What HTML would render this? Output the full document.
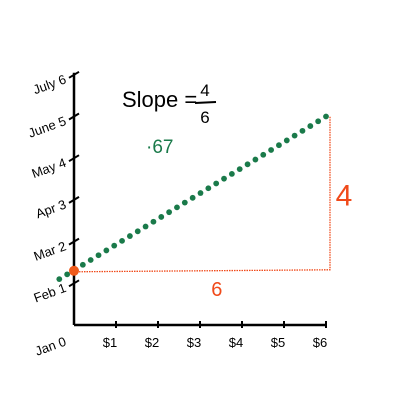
<!DOCTYPE html>
<html><head><meta charset="utf-8"><style>
html,body{margin:0;padding:0;background:#fff;}
svg{display:block;}
text{font-family:"Liberation Sans",sans-serif;}
</style></head><body>
<svg id="c" width="400" height="400">
<text x="122" y="107" font-size="22" fill="#000">Slope =</text>
<text x="205" y="96" font-size="17" fill="#000" text-anchor="middle">4</text>
<line x1="195" y1="103" x2="216" y2="102" stroke="#000" stroke-width="2"/>
<text x="205" y="123" font-size="17" fill="#000" text-anchor="middle">6</text>
<text x="146" y="153" font-size="19" fill="#1a7a4a">·67</text>
</svg>
<script>
const xTicks=[0,1,2,3,4,5,6];
const xLabels=["","$1","$2","$3","$4","$5","$6"];
const yTicks=[0,1,2,3,4,5,6];
const yLabels=["Jan 0","Feb 1","Mar 2","Apr 3","May 4","June 5","July 6"];
const lineStart=[-0.35,1.1];
const lineEnd=[6,5.0];
const anchorPoint=[0,1.3];
const runLabel=["6"];
const riseLabel=["4"];
const svg=document.getElementById('c');
const NS='http://www.w3.org/2000/svg';
const x0=74,y0=325,ux=42,uy=41.7;
const X=v=>x0+v*ux, Y=v=>y0-v*uy;
function mk(t,a){const e=document.createElementNS(NS,t);for(const k in a)e.setAttribute(k,a[k]);svg.appendChild(e);return e;}
let e;
e=mk('line',{x1:X(0),y1:Y(6.05),x2:X(0),y2:Y(0),stroke:'#000','stroke-width':2.5});


e=mk('line',{x1:X(0),y1:Y(0),x2:X(6.02),y2:Y(0),stroke:'#000','stroke-width':2.5});


xTicks.forEach((v,i)=>{
 if(i>0){e=mk('line',{x1:X(v),y1:Y(0)-4,x2:X(v),y2:Y(0)+3,stroke:'#000','stroke-width':2});
 
 
 e=mk('text',{x:X(v)-6,y:Y(0)+22,'font-size':13,'text-anchor':'middle',fill:'#000'});e.textContent=xLabels[i];
 
 }
});
yTicks.forEach((v,i)=>{
 if(i>0){e=mk('line',{x1:X(0)-5,y1:Y(v)+3,x2:X(0)+5,y2:Y(v)-3,stroke:'#000','stroke-width':2});
 
 }
 const ly=Y(v)+(i==0?20:8);
 e=mk('text',{x:X(0)-7,y:ly,'font-size':13,'text-anchor':'end',fill:'#000',transform:`rotate(-20 ${X(0)-7} ${ly})`});e.textContent=yLabels[i];
 
 
});
const ay=Y(anchorPoint[1]);
e=mk('polyline',{points:`${X(anchorPoint[0])},${ay+1} ${X(lineEnd[0])+4},${ay-1} ${X(lineEnd[0])+4},${Y(lineEnd[1])}`,fill:'none',stroke:'#f04a1a','stroke-width':1.3,'stroke-dasharray':'1.5 1'});


const n=34;
for(let i=0;i<=n;i++){const t=i/n;const vx=lineStart[0]+(lineEnd[0]-lineStart[0])*t,vy=lineStart[1]+(lineEnd[1]-lineStart[1])*t;
 e=mk('circle',{cx:X(vx),cy:Y(vy),r:2.9,fill:'#1a7a4a'});
 
 }
e=mk('circle',{cx:X(anchorPoint[0]),cy:ay,r:5,fill:'#f05a1a'});


e=mk('text',{x:X(3.4),y:ay+25,'font-size':20,fill:'#f04a1a','text-anchor':'middle'});e.textContent=runLabel[0];


e=mk('text',{x:X(lineEnd[0])+18,y:(ay+Y(lineEnd[1]))/2+12,'font-size':30,fill:'#f04a1a','text-anchor':'middle'});e.textContent=riseLabel[0];


</script>
</body></html>
